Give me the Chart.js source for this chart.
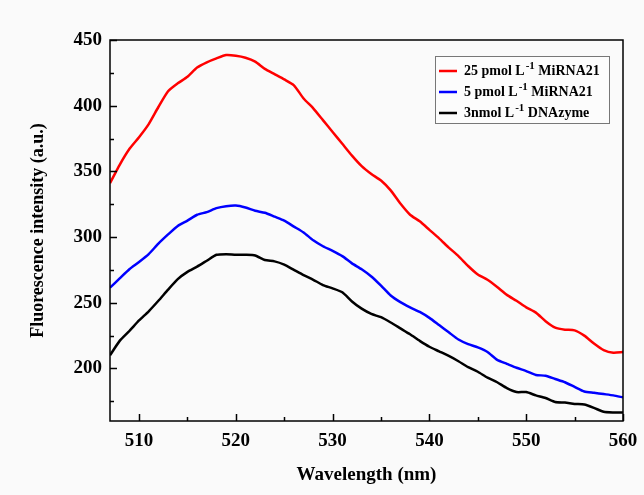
<!DOCTYPE html>
<html>
<head>
<meta charset="utf-8">
<script src="https://cdn.jsdelivr.net/npm/chart.js@4.4.0/dist/chart.umd.min.js"></script>
<style>
    html, body { margin: 0; padding: 0; background: #fafafa; }
    #wrap { width: 644px; height: 495px; position: relative; }
</style>
</head>
<body>
<div id="wrap"><canvas id="spectraChart"></canvas></div>
<script>
// Wavelength (nm), one point per nm
const wavelengths = [507, 508, 509, 510, 511, 512, 513, 514, 515, 516, 517, 518, 519, 520,
    521, 522, 523, 524, 525, 526, 527, 528, 529, 530, 531, 532, 533, 534, 535, 536, 537, 538,
    539, 540, 541, 542, 543, 544, 545, 546, 547, 548, 549, 550, 551, 552, 553, 554, 555, 556,
    557, 558, 559, 560];

// 25 pmol L-1 MiRNA21
const mirna25 = [341, 355, 367, 376, 386, 399, 411, 417, 422, 429, 433, 436, 438.5, 438,
    436.5, 433.5, 428, 424, 420, 415.5, 405.5, 398, 389, 380, 371, 362, 354, 348, 343, 335.5,
    325.5, 317, 312, 305.5, 299, 292, 285.5, 278, 271.5, 267.5, 262, 256, 251.5, 246.5, 242.5,
    236, 231, 229.5, 229, 225, 219, 214, 212, 212.5];

// 5 pmol L-1 MiRNA21
const mirna5 = [261.5, 268.5, 275.5, 281, 287, 295, 302, 308.5, 312.5, 317, 319, 322, 323.5,
    324, 322.5, 320, 318.5, 315.5, 312.5, 308, 303.5, 297.5, 293, 289.5, 285.5, 280, 275.5,
    270, 263, 255.5, 250.5, 246.5, 243, 238.5, 233, 227.5, 222, 218.5, 216, 212.5, 206.5,
    203.5, 200.5, 198, 195, 194.5, 192, 189.5, 186, 182.5, 181.5, 180.5, 179.5, 178];

// 3 nmol L-1 DNAzyme
const dnazyme = [210, 221, 228.5, 236.5, 243.5, 251.5, 260, 268, 273.5, 277.5, 282, 286.5,
    287, 286.5, 286.5, 286, 282.5, 281.5, 279, 275, 271, 267.5, 263.5, 261, 258, 251, 245.5,
    241.5, 239, 235, 230.5, 226, 221, 216.5, 213, 209.5, 205.5, 201, 197.5, 193, 189.5, 185,
    182, 182, 179.5, 177.5, 174.5, 174, 173, 172.5, 170, 167, 166.5, 166.5];

const xLabelTicks = [510, 520, 530, 540, 550, 560];
const xMinorTicks = [515, 525, 535, 545, 555];
const yLabelTicks = [200, 250, 300, 350, 400, 450];
const yMinorTicks = [175, 225, 275, 325, 375, 425];

const legendLabels = [
    { pre: '25 pmol L', sup: '-1', post: ' MiRNA21', color: '#ff0000' },
    { pre: '5 pmol L', sup: '-1', post: ' MiRNA21', color: '#0000ff' },
    { pre: '3nmol L', sup: '-1', post: ' DNAzyme', color: '#000000' }
];

const SERIF = '"Liberation Serif", "Times New Roman", serif';

function series(values) {
    return values.map((v, i) => ({ x: wavelengths[i], y: v }));
}

// Frame round the plot plus inward tick marks
const frameTicks = {
    id: 'frameTicks',
    afterDatasetsDraw(chart) {
        const { ctx, chartArea: a, scales: { x, y } } = chart;
        ctx.save();
        ctx.strokeStyle = '#000';
        ctx.lineWidth = 1.5;
        ctx.strokeRect(a.left, a.top, a.right - a.left, a.bottom - a.top);
        ctx.beginPath();
        xLabelTicks.concat(xMinorTicks).forEach(v => {
            const px = Math.round(x.getPixelForValue(v)) + 0.5;
            const len = xLabelTicks.includes(v) ? 7 : 4;
            ctx.moveTo(px, a.bottom);
            ctx.lineTo(px, a.bottom - len);
        });
        yLabelTicks.concat(yMinorTicks).forEach(v => {
            const py = Math.round(y.getPixelForValue(v)) + 0.5;
            const len = yLabelTicks.includes(v) ? 7 : 4;
            ctx.moveTo(a.left, py);
            ctx.lineTo(a.left + len, py);
        });
        ctx.stroke();
        ctx.restore();
    }
};

// Boxed legend with superscript units
const boxLegend = {
    id: 'boxLegend',
    afterDraw(chart) {
        const ctx = chart.ctx;
        const bx = 435, by = 56, bw = 174, bh = 67;
        ctx.save();
        ctx.fillStyle = '#fcfcfc';
        ctx.fillRect(bx, by, bw, bh);
        ctx.strokeStyle = '#777';
        ctx.lineWidth = 1;
        ctx.strokeRect(bx + 0.5, by + 0.5, bw, bh);
        legendLabels.forEach((item, i) => {
            const rowY = 71 + i * 21;
            ctx.strokeStyle = item.color;
            ctx.lineWidth = 2.5;
            ctx.beginPath();
            ctx.moveTo(439, rowY);
            ctx.lineTo(457, rowY);
            ctx.stroke();

            ctx.fillStyle = '#000';
            ctx.textBaseline = 'middle';
            ctx.textAlign = 'left';
            let tx = 464;
            ctx.font = 'bold 14px ' + SERIF;
            ctx.fillText(item.pre, tx, rowY);
            tx += ctx.measureText(item.pre).width + 1;
            ctx.font = 'bold 11px ' + SERIF;
            ctx.fillText(item.sup, tx, rowY - 5);
            tx += ctx.measureText(item.sup).width;
            ctx.font = 'bold 14px ' + SERIF;
            ctx.fillText(item.post, tx, rowY);
        });
        ctx.restore();
    }
};

function lineSet(label, values, color) {
    return {
        label: label,
        data: series(values),
        borderColor: color,
        backgroundColor: color,
        borderWidth: 2.5,
        pointRadius: 0,
        tension: 0.2,
        fill: false
    };
}

const ctx = document.getElementById('spectraChart');
new Chart(ctx, {
    type: 'line',
    data: {
        datasets: [
            lineSet('25 pmol L-1 MiRNA21', mirna25, '#ff0000'),
            lineSet('5 pmol L-1 MiRNA21', mirna5, '#0000ff'),
            lineSet('3nmol L-1 DNAzyme', dnazyme, '#000000')
        ]
    },
    options: {
        responsive: true,
        maintainAspectRatio: false,
        animation: false,
        layout: { padding: { top: 40, right: 21, left: 0, bottom: 0 } },
        plugins: {
            legend: { display: false },
            tooltip: { enabled: false }
        },
        scales: {
            x: {
                type: 'linear',
                min: 507,
                max: 560,
                grid: { display: false },
                border: { display: false },
                afterBuildTicks: scale => { scale.ticks = xLabelTicks.map(v => ({ value: v })); },
                afterFit: scale => { scale.height = 74; },
                ticks: {
                    color: '#000',
                    padding: 1,
                    maxRotation: 0,
                    font: { family: SERIF, size: 19, weight: 'bold' }
                },
                title: {
                    display: true,
                    text: 'Wavelength (nm)',
                    color: '#000',
                    padding: { top: 0, bottom: 9 },
                    font: { family: SERIF, size: 19, weight: 'bold' }
                }
            },
            y: {
                min: 160,
                max: 450,
                grid: { display: false },
                border: { display: false },
                afterBuildTicks: scale => { scale.ticks = yLabelTicks.map(v => ({ value: v })); },
                afterFit: scale => { scale.width = 110; },
                ticks: {
                    color: '#000',
                    padding: 0,
                    font: { family: SERIF, size: 19, weight: 'bold' }
                },
                title: {
                    display: true,
                    text: 'Fluorescence intensity (a.u.)',
                    color: '#000',
                    padding: { top: 28, bottom: 0 },
                    font: { family: SERIF, size: 18, weight: 'bold' }
                }
            }
        }
    },
    plugins: [frameTicks, boxLegend]
});
</script>
</body>
</html>
